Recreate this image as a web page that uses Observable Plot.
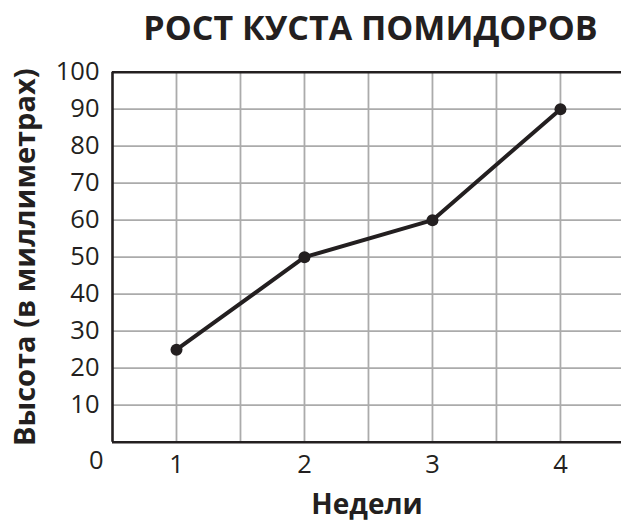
<!DOCTYPE html>
<html>
<head>
<meta charset="utf-8">
<script src="https://cdn.jsdelivr.net/npm/d3@7"></script>
<script src="https://cdn.jsdelivr.net/npm/@observablehq/plot@0.6"></script>
<style>
  body { margin: 0; background: #fff; font-family: "Open Sans", sans-serif; }
  #wrap { position: relative; width: 621px; height: 527px; overflow: hidden; }
  #title { position: absolute; left: 0; top: 0; width: 621px; height: 60px; box-sizing: border-box; padding-left: 120px;
           text-align: center; font-weight: bold; font-size: 34px; line-height: 54px; color: #231f20; white-space: nowrap; z-index: 2; }
  #chart { position: absolute; left: 0; top: 40px; }
  #chart svg { overflow: visible; }
</style>
</head>
<body>
<div id="wrap">
  <div id="title">РОСТ КУСТА ПОМИДОРОВ</div>
  <div id="chart"></div>
</div>
<script>
const weeks = [1, 2, 3, 4];
const heights = [25, 50, 60, 90];
const yTicks = [10, 20, 30, 40, 50, 60, 70, 80, 90, 100];
const xTicks = [1, 2, 3, 4];
const xGrid = [1, 1.5, 2, 2.5, 3, 3.5, 4];
const yGrid = [10, 20, 30, 40, 50, 60, 70, 80, 90];
const originLabel = ["0"];
const yTitle = "Высота (в миллиметрах)";
const xTitle = "Недели";

const data = weeks.map((w, i) => ({week: w, height: heights[i]}));
const ink = "#231f20";
const tickFont = 25.5;

const chart = Plot.plot({
  width: 621,
  height: 487,
  marginTop: 31.7,
  marginBottom: 85.3,
  marginLeft: 112,
  marginRight: 0,
  style: {fontFamily: "Open Sans, sans-serif", color: ink, background: "transparent"},
  x: {domain: [0.5, 4.477], axis: null},
  y: {domain: [0, 100], axis: null},
  marks: [
    Plot.gridX(xGrid, {stroke: "#ababab", strokeOpacity: 1, strokeWidth: 1.8}),
    Plot.gridY(yGrid, {stroke: "#ababab", strokeOpacity: 1, strokeWidth: 1.8}),
    Plot.ruleY([0, 100], {stroke: ink, strokeWidth: 2.6}),
    Plot.ruleX([0.5], {stroke: ink, strokeWidth: 2.6}),
    Plot.text(yTicks, {x: 0.5, y: d => d, text: d => String(d), textAnchor: "end", dx: -13, fontSize: tickFont, fill: ink}),
    Plot.text(xTicks, {x: d => d, y: 0, text: d => String(d), dy: 23, fontSize: tickFont, fill: ink}),
    Plot.text(originLabel, {x: 0.5, y: 0, text: d => d, textAnchor: "end", dx: -9, dy: 19, fontSize: tickFont, fill: ink}),
    Plot.axisY([], {label: yTitle, labelAnchor: "center", labelArrow: "none", labelOffset: 98, fontSize: 29, fontWeight: "bold"}),
    Plot.axisX([], {label: xTitle, labelAnchor: "center", labelArrow: "none", labelOffset: 72, fontSize: 28, fontWeight: "bold"}),
    Plot.line(data, {x: "week", y: "height", stroke: ink, strokeWidth: 4}),
    Plot.dot(data, {x: "week", y: "height", r: 6, fill: ink, stroke: "none"})
  ]
});
document.getElementById("chart").appendChild(chart);
</script>
</body>
</html>
